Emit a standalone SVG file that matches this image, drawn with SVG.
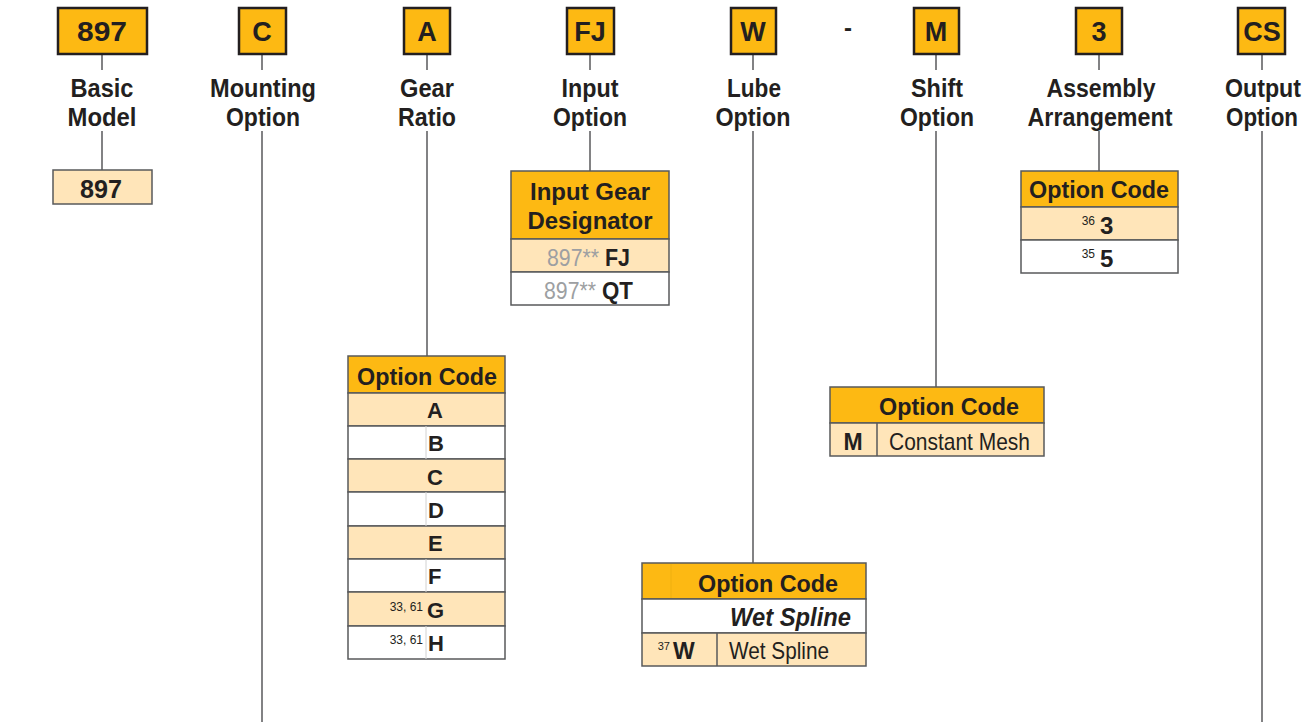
<svg xmlns="http://www.w3.org/2000/svg" width="1309" height="722" viewBox="0 0 1309 722">
<style>
.code{fill:#FDB913;stroke:#231F20;stroke-width:2.5}
.hdr{fill:#FDB913;stroke:#58595B;stroke-width:1.5}
.pk{fill:#FFE5B9;stroke:#58595B;stroke-width:1.5}
.wt{fill:#FFFFFF;stroke:#58595B;stroke-width:1.5}
.div{stroke:#58595B;stroke-width:1.5}
.fdiv{stroke:#D2D2D2;stroke-width:1}
.conn line{stroke:#58595B;stroke-width:1.5}
text{font-family:"Liberation Sans",Arial,sans-serif;fill:#231F20}
.ct{font-size:27px;font-weight:bold;text-anchor:middle}
.lb{font-size:25px;font-weight:bold;text-anchor:middle}
.th{font-size:24.5px;font-weight:bold;text-anchor:middle}
.rb{font-size:22px;font-weight:bold}
.rr{font-size:24px}
.sup{font-size:12px;text-anchor:end;fill:#231F20}
.gray{fill:#9D9FA2;font-size:24.5px}
</style>

<g class="conn" id="connectors">
<line x1="102" y1="54" x2="102" y2="70"/><line x1="102" y1="131" x2="102" y2="170"/>
<line x1="262" y1="54" x2="262" y2="70"/><line x1="262" y1="131" x2="262" y2="722"/>
<line x1="427" y1="54" x2="427" y2="70"/><line x1="427" y1="131" x2="427" y2="356"/>
<line x1="590" y1="54" x2="590" y2="70"/><line x1="590" y1="131" x2="590" y2="171"/>
<line x1="753" y1="54" x2="753" y2="70"/><line x1="753" y1="131" x2="753" y2="563"/>
<line x1="936" y1="54" x2="936" y2="70"/><line x1="936" y1="131" x2="936" y2="387"/>
<line x1="1099" y1="54" x2="1099" y2="70"/><line x1="1099" y1="131" x2="1099" y2="171"/>
<line x1="1262" y1="54" x2="1262" y2="70"/><line x1="1262" y1="131" x2="1262" y2="722"/>
</g>

<g id="basic-model">
<rect class="code" x="58" y="8" width="89" height="46"/>
<text class="ct" x="102" y="41" textLength="50" lengthAdjust="spacingAndGlyphs">897</text>
<text class="lb" x="102" y="97" textLength="63" lengthAdjust="spacingAndGlyphs">Basic</text>
<text class="lb" x="102" y="126" textLength="69" lengthAdjust="spacingAndGlyphs">Model</text>
<rect class="pk" x="53" y="170" width="99" height="34"/>
<text class="ct" x="101" y="198" style="font-size:25px" textLength="42" lengthAdjust="spacingAndGlyphs">897</text>
</g>

<g id="mounting-option">
<rect class="code" x="239" y="8" width="47" height="46"/>
<text class="ct" x="262" y="41">C</text>
<text class="lb" x="263" y="97" textLength="106" lengthAdjust="spacingAndGlyphs">Mounting</text>
<text class="lb" x="263" y="126" textLength="74" lengthAdjust="spacingAndGlyphs">Option</text>
</g>

<g id="gear-ratio">
<rect class="code" x="404" y="8" width="46" height="46"/>
<text class="ct" x="427" y="41">A</text>
<text class="lb" x="427" y="97" textLength="54" lengthAdjust="spacingAndGlyphs">Gear</text>
<text class="lb" x="427" y="126" textLength="58" lengthAdjust="spacingAndGlyphs">Ratio</text>
<rect class="hdr" x="348" y="356" width="157" height="37"/>
<text class="th" x="427" y="385" textLength="140" lengthAdjust="spacingAndGlyphs">Option Code</text>
<rect class="pk" x="348" y="393" width="157" height="33"/>
<rect class="wt" x="348" y="426" width="157" height="33"/>
<rect class="pk" x="348" y="459" width="157" height="33"/>
<rect class="wt" x="348" y="492" width="157" height="34"/>
<rect class="pk" x="348" y="526" width="157" height="33"/>
<rect class="wt" x="348" y="559" width="157" height="33"/>
<rect class="pk" x="348" y="592" width="157" height="34"/>
<rect class="wt" x="348" y="626" width="157" height="33"/>
<line class="fdiv" x1="426" y1="426" x2="426" y2="459"/>
<line class="fdiv" x1="426" y1="492" x2="426" y2="526"/>
<line class="fdiv" x1="426" y1="559" x2="426" y2="592"/>
<line class="fdiv" x1="426" y1="626" x2="426" y2="659"/>
<text class="rb" x="427" y="418">A</text>
<text class="rb" x="428" y="451">B</text>
<text class="rb" x="427" y="485">C</text>
<text class="rb" x="428" y="518">D</text>
<text class="rb" x="428" y="551">E</text>
<text class="rb" x="428" y="584">F</text>
<text class="rb" x="427" y="618">G</text>
<text class="rb" x="428" y="651">H</text>
<text class="sup" x="423" y="611">33, 61</text>
<text class="sup" x="423" y="644">33, 61</text>
</g>

<g id="input-option">
<rect class="code" x="567" y="8" width="47" height="46"/>
<text class="ct" x="590" y="41">FJ</text>
<text class="lb" x="590" y="97" textLength="57" lengthAdjust="spacingAndGlyphs">Input</text>
<text class="lb" x="590" y="126" textLength="74" lengthAdjust="spacingAndGlyphs">Option</text>
<rect class="hdr" x="511" y="171" width="158" height="68"/>
<text class="th" x="590" y="200" textLength="120" lengthAdjust="spacingAndGlyphs">Input Gear</text>
<text class="th" x="590" y="229" textLength="125" lengthAdjust="spacingAndGlyphs">Designator</text>
<rect class="pk" x="511" y="239" width="158" height="33"/>
<rect class="wt" x="511" y="272" width="158" height="33"/>
<text class="gray" x="547" y="266" textLength="52" lengthAdjust="spacingAndGlyphs">897**</text>
<text class="rb" x="605" y="266" style="font-size:24px" textLength="25" lengthAdjust="spacingAndGlyphs">FJ</text>
<text class="gray" x="544" y="299" textLength="52" lengthAdjust="spacingAndGlyphs">897**</text>
<text class="rb" x="602" y="299" style="font-size:24px" textLength="31" lengthAdjust="spacingAndGlyphs">QT</text>
</g>

<g id="lube-option">
<rect class="code" x="731" y="8" width="45" height="46"/>
<text class="ct" x="753" y="41">W</text>
<text class="lb" x="754" y="97" textLength="54" lengthAdjust="spacingAndGlyphs">Lube</text>
<text class="lb" x="753" y="126" textLength="75" lengthAdjust="spacingAndGlyphs">Option</text>
<rect class="hdr" x="642" y="563" width="224" height="36"/>
<line x1="671" y1="564" x2="671" y2="598" style="stroke:#EFB010;stroke-width:1"/>
<text class="th" x="768" y="592" textLength="140" lengthAdjust="spacingAndGlyphs">Option Code</text>
<rect class="wt" x="642" y="599" width="224" height="34"/>
<text x="851" y="626" style="font-size:25px;font-weight:bold;font-style:italic;text-anchor:end" textLength="121" lengthAdjust="spacingAndGlyphs">Wet Spline</text>
<rect class="pk" x="642" y="633" width="224" height="33"/>
<line class="div" x1="717" y1="633" x2="717" y2="666"/>
<text class="sup" x="670" y="650" style="font-size:11px">37</text>
<text class="rb" x="673" y="659" style="font-size:23px">W</text>
<text class="rr" x="729" y="659" textLength="100" lengthAdjust="spacingAndGlyphs">Wet Spline</text>
</g>

<text x="848" y="36" style="font-size:24px;font-weight:bold;text-anchor:middle">-</text>

<g id="shift-option">
<rect class="code" x="914" y="8" width="45" height="46"/>
<text class="ct" x="936" y="41">M</text>
<text class="lb" x="937" y="97" textLength="52" lengthAdjust="spacingAndGlyphs">Shift</text>
<text class="lb" x="937" y="126" textLength="74" lengthAdjust="spacingAndGlyphs">Option</text>
<rect class="hdr" x="830" y="387" width="214" height="36"/>
<text class="th" x="949" y="415" textLength="140" lengthAdjust="spacingAndGlyphs">Option Code</text>
<rect class="pk" x="830" y="423" width="214" height="33"/>
<line class="div" x1="877" y1="423" x2="877" y2="456"/>
<text class="rb" x="853" y="450" text-anchor="middle" style="font-size:23px">M</text>
<text class="rr" x="889" y="450" textLength="141" lengthAdjust="spacingAndGlyphs">Constant Mesh</text>
</g>

<g id="assembly-arrangement">
<rect class="code" x="1076" y="8" width="46" height="46"/>
<text class="ct" x="1099" y="41">3</text>
<text class="lb" x="1101" y="97" textLength="109" lengthAdjust="spacingAndGlyphs">Assembly</text>
<text class="lb" x="1100" y="126" textLength="145" lengthAdjust="spacingAndGlyphs">Arrangement</text>
<rect class="hdr" x="1021" y="171" width="157" height="36"/>
<text class="th" x="1099" y="198" textLength="140" lengthAdjust="spacingAndGlyphs">Option Code</text>
<rect class="pk" x="1021" y="207" width="157" height="33"/>
<rect class="wt" x="1021" y="240" width="157" height="33"/>
<text class="sup" x="1095" y="225">36</text>
<text class="rb" x="1100" y="234" style="font-size:24px">3</text>
<text class="sup" x="1095" y="258">35</text>
<text class="rb" x="1100" y="267" style="font-size:24px">5</text>
</g>

<g id="output-option">
<rect class="code" x="1238" y="8" width="47" height="46"/>
<text class="ct" x="1262" y="41">CS</text>
<text class="lb" x="1263" y="97" textLength="76" lengthAdjust="spacingAndGlyphs">Output</text>
<text class="lb" x="1262" y="126" textLength="72" lengthAdjust="spacingAndGlyphs">Option</text>
</g>
</svg>
